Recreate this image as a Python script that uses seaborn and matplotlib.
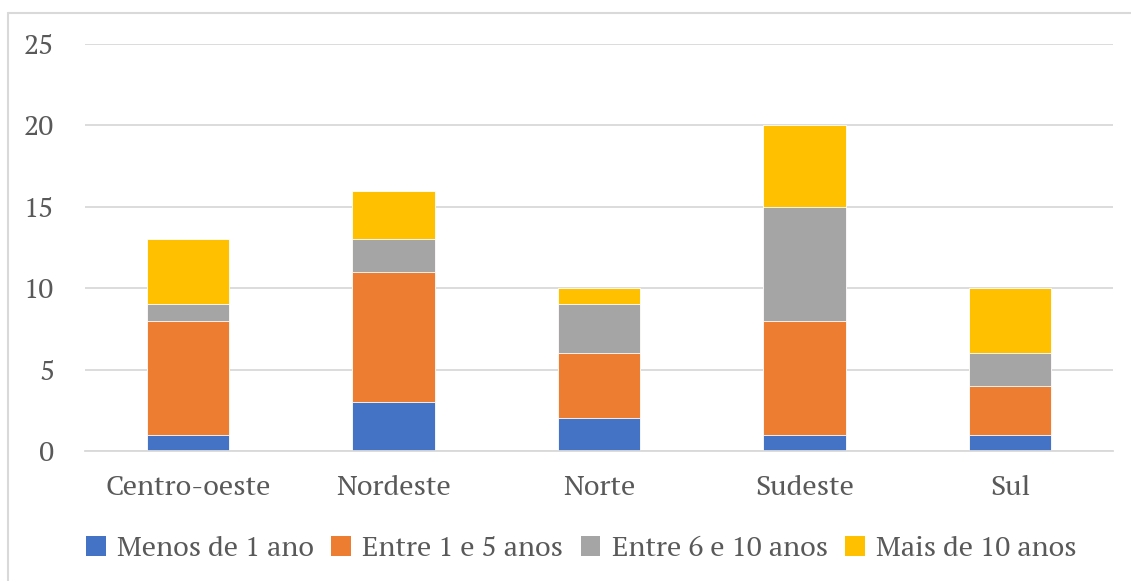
import numpy as np
import pandas as pd
import matplotlib
matplotlib.use("Agg")
import matplotlib.pyplot as plt
from matplotlib.lines import Line2D
from matplotlib.patches import Patch
import seaborn as sns

regioes = ["Centro-oeste", "Nordeste", "Norte", "Sudeste", "Sul"]
series = ["Menos de 1 ano", "Entre 1 e 5 anos", "Entre 6 e 10 anos", "Mais de 10 anos"]
menos_1 = [1, 3, 2, 1, 1]
entre_1_5 = [7, 8, 4, 7, 3]
entre_6_10 = [1, 2, 3, 7, 2]
mais_10 = [4, 3, 1, 5, 4]
yticks = [0, 5, 10, 15, 20, 25]

cores = ["#4472C4", "#ED7D31", "#A5A5A5", "#FFC000"]

sns.set_theme(style="white")
plt.rcParams["font.family"] = ["PT Serif", "DejaVu Serif"]
FS = 20.5

valores = np.array([menos_1, entre_1_5, entre_6_10, mais_10], dtype=float)
acumulado = np.cumsum(valores, axis=0)

fig = plt.figure(figsize=(11.31, 5.81), dpi=100)
ax = fig.add_axes([85 / 1131, 1 - 451 / 581, (1113 - 85) / 1131, (451 - 44) / 581])

for i in range(len(series) - 1, -1, -1):
    df = pd.DataFrame({"regiao": regioes, "valor": acumulado[i]})
    sns.barplot(data=df, x="regiao", y="valor", color=cores[i], width=0.4,
                saturation=1, edgecolor="white", linewidth=0.6, ax=ax, zorder=2)

ax.set_xlim(-0.5, len(regioes) - 0.5)
ax.set_ylim(0, 25)
ax.set_yticks(yticks)
ax.yaxis.grid(True, color="#D9D9D9", linewidth=1.3, zorder=0)
ax.set_axisbelow(True)
for s in ["top", "right", "left"]:
    ax.spines[s].set_visible(False)
ax.spines["bottom"].set_color("#D9D9D9")
ax.spines["bottom"].set_linewidth(1.3)
ax.set_xlabel("")
ax.set_ylabel("")
ax.tick_params(axis="both", length=0, labelsize=FS, labelcolor="#595959")
ax.tick_params(axis="y", pad=22)
ax.tick_params(axis="x", pad=17)

handles = [Patch(facecolor=c, edgecolor="none") for c in cores]
fig.legend(handles, series, loc="center", bbox_to_anchor=(0.514, 1 - 548 / 581),
           ncol=4, frameon=False, fontsize=FS, labelcolor="#595959",
           handlelength=0.7, handleheight=0.7, handletextpad=0.4, columnspacing=0.6)

# outer chart border (top and left visible)
fig.add_artist(Line2D([8 / 1131, 1.0], [1 - 12.5 / 581, 1 - 12.5 / 581],
                      transform=fig.transFigure, color="#D9D9D9", linewidth=1.5))
fig.add_artist(Line2D([8 / 1131, 8 / 1131], [0.0, 1 - 12.5 / 581],
                      transform=fig.transFigure, color="#D9D9D9", linewidth=1.5))

fig.savefig("out.png", dpi=100)
